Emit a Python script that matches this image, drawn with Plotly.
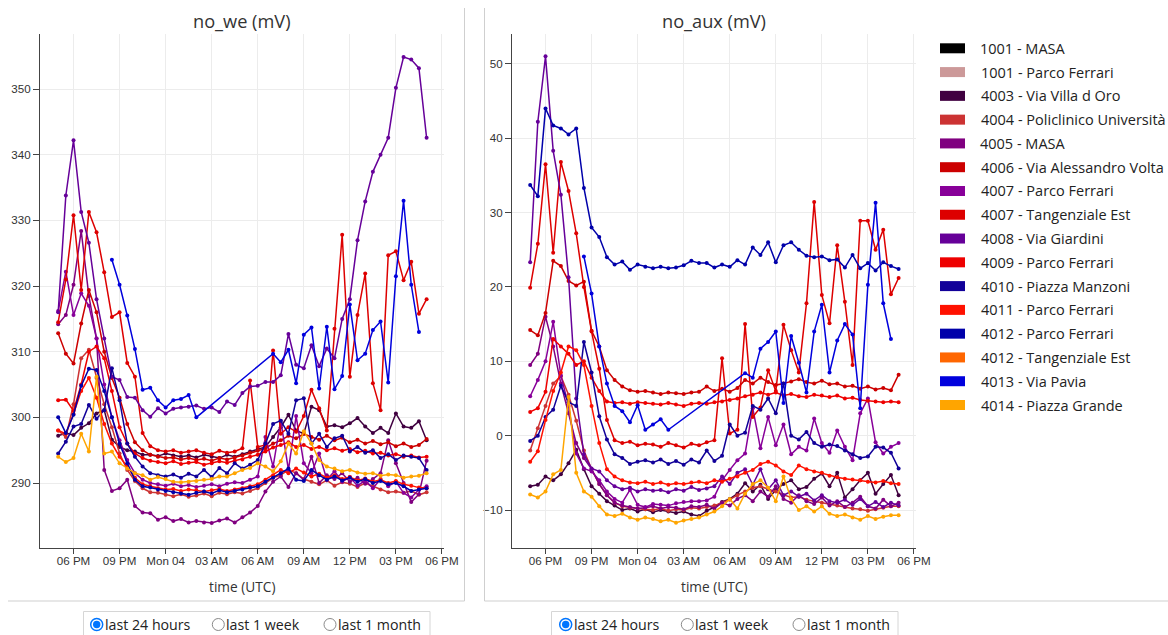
import plotly.graph_objects as go
from datetime import datetime, timedelta

# ---------------- data ----------------
start = datetime(2024, 3, 3, 17, 0)
times = [(start + timedelta(minutes=30 * i)).strftime("%Y-%m-%d %H:%M") for i in range(49)]

tick_times = ["2024-03-03 18:00", "2024-03-03 21:00", "2024-03-04 00:00", "2024-03-04 03:00",
              "2024-03-04 06:00", "2024-03-04 09:00", "2024-03-04 12:00", "2024-03-04 15:00",
              "2024-03-04 18:00"]
tick_labels = ["06 PM", "09 PM", "Mon 04", "03 AM", "06 AM", "09 AM", "12 PM", "03 PM", "06 PM"]
x_range = ["2024-03-03 15:49", "2024-03-04 18:08"]

names = ["1001 - MASA", "1001 - Parco Ferrari", "4003 - Via Villa d Oro", "4004 - Policlinico Università",
         "4005 - MASA", "4006 - Via Alessandro Volta", "4007 - Parco Ferrari", "4007 - Tangenziale Est",
         "4008 - Via Giardini", "4009 - Parco Ferrari", "4010 - Piazza Manzoni", "4011 - Parco Ferrari",
         "4012 - Parco Ferrari", "4012 - Tangenziale Est", "4013 - Via Pavia", "4014 - Piazza Grande"]
colors = ["#000000", "#CC9999", "#400040", "#CC3333", "#800080", "#CC0000", "#880099", "#DD0000",
          "#660099", "#EE0000", "#110099", "#FF1100", "#0000AA", "#FF6600", "#0000DD", "#FFA500"]

N = None

we_1001_masa = []
aux_1001_masa = []
we_1001_pf = []
aux_1001_pf = []
we_4012_te = []
aux_4012_te = []

we_4003 = [297.2, 297.6, 297.3, 298.4, 299.1, 300.6, 301.1, 296.6, 295.5, 295.0,
           294.8, 294.3, 294.3, 294.1, 294.5, 294.2, 294.0, 294.2, 293.9, 294.3,
           294.0, 293.8, 294.3, 294.0, 294.4, 294.8, 295.2, 295.5, 297.0, 298.5,
           300.4, 298.0, 297.5, 301.6, 301.1, 298.6, 298.8, 298.5, 299.1, 299.9,
           298.6, 297.6, 298.4, 297.6, 300.6, 298.6, 298.4, 299.4, 296.5]
aux_4003 = [-6.8, -6.6, -5.5, -6.0, -5.2, -3.7, -1.9, -4.5, -6.8, -7.8,
            -8.8, -9.4, -10.0, -9.8, -10.2, -9.9, -10.3, -10.0, -10.2, -10.4,
            -10.2, -10.6, -10.8, -10.1, -9.6, -8.9, -8.5, -7.8, -6.4, -7.5,
            -6.6, -8.5, -7.3, -6.5, -6.0, -7.2, -6.9, -5.8, -5.1, -6.8,
            -5.0, -8.3, -7.2, -6.0, -5.0, -7.8, -6.5, -5.3, -8.0]

we_4004 = [298.0, 297.0, 302.0, 309.0, 310.3, 306.0, 302.0, 298.5, 294.5, 292.0,
           290.3, 289.2, 288.6, 288.5, 288.2, 288.0, 288.3, 287.9, 288.1, 288.4,
           288.0, 288.5, 288.3, 288.6, 288.4, 288.8, 289.2, 290.0, 290.8, 291.2,
           292.0, 291.5, 290.6, 290.2, 289.8, 290.4, 289.6, 290.1, 289.9, 289.4,
           290.0, 289.5, 289.0, 288.6, 288.7, 288.5, 288.8, 288.2, 288.6]
aux_4004 = [-2.0, 1.0, 4.0, 7.0, 8.0, 5.5, 2.0, -2.0, -4.5, -6.5,
            -8.0, -9.0, -9.5, -9.7, -9.8, -9.9, -10.0, -9.8, -10.1, -9.9,
            -10.0, -9.7, -9.8, -9.6, -9.4, -9.0, -8.6, -8.0, -7.5, -7.0,
            -6.8, -7.2, -7.5, -8.0, -8.3, -8.2, -8.6, -8.8, -9.0, -9.2,
            -9.4, -9.6, -9.8, -9.9, -10.1, -9.9, -9.7, -9.5, -9.5]

we_4005 = [314.2, 315.6, 320.2, 328.4, 318.5, 312.0, 292.0, 288.8, 289.2, 290.5,
           286.5, 285.5, 285.4, 284.4, 284.8, 284.2, 284.5, 284.0, 284.2, 284.0,
           283.9, 284.3, 284.6, 284.0, 284.8, 285.5, 286.5, 288.7, 290.2, 291.0,
           289.4, 291.5, 290.5, 294.0, 290.0, 291.2, 290.6, 291.5, 290.2, 290.8,
           289.9, 290.6, 291.5, 296.5, 293.0, 290.0, 287.1, 288.3, 293.4]
aux_4005 = [9.5, 11.0, 16.0, 12.0, 7.0, 3.0, -1.0, -3.0, -4.5, -6.5,
            -8.0, -9.0, -9.4, -9.6, -9.8, -9.7, -9.5, -9.8, -9.6, -9.7,
            -9.9, -9.5, -9.6, -9.3, -9.8, -9.0, -9.4, -8.5, -8.0, -8.8,
            -7.5, -8.2, -6.8, -8.5, -9.0, -8.0, -8.8, -9.2, -8.3, -9.4,
            -8.8, -9.6, -9.0, -8.2, -9.5, -9.8, -8.6, -9.5, -9.0]

we_4006 = [312.8, 309.7, 308.2, 314.3, 319.4, 316.0, 310.0, 306.0, 303.0, 299.0,
           296.2, 295.0, 294.3, 294.0, 293.8, 293.9, 293.6, 293.8, 293.5, 293.7,
           293.4, 293.8, 293.6, 293.9, 294.2, 294.6, 294.9, 295.3, 296.0, 296.5,
           297.2, 296.8, 297.5, 297.0, 296.6, 297.2, 296.5, 296.9, 296.2, 296.6,
           296.0, 296.4, 295.9, 296.2, 295.6, 296.0, 295.5, 295.8, 296.7]
aux_4006 = [14.2, 13.5, 16.5, 23.5, 22.8, 20.8, 20.2, 20.7, 14.1, 12.0,
            8.8, 7.5, 6.6, 6.1, 5.9, 6.0, 5.8, 5.6, 5.8, 5.7,
            5.6, 5.8, 5.9, 6.6, 6.0, 6.3, 5.9, 6.4, 7.5, 7.0,
            7.8, 7.2, 6.8, 7.0, 7.3, 7.6, 7.2, 7.0, 7.4, 6.9,
            7.0, 6.6, 6.7, 6.3, 6.6, 6.2, 6.4, 6.1, 8.2]

we_4007_pf = [316.2, 322.2, 315.6, 318.9, 317.0, 312.0, 305.0, 300.0, 296.5, 293.5,
              291.5, 290.5, 290.0, 289.8, 289.6, 289.9, 289.5, 289.7, 289.4, 289.6,
              289.8, 289.5, 289.9, 290.1, 290.0, 290.5, 291.0, 297.0, 292.5, 299.5,
              292.0, 300.2, 293.0, 291.5, 294.5, 290.5, 291.8, 290.2, 290.9, 289.6,
              290.4, 289.2, 290.6, 289.5, 290.2, 288.5, 287.8, 289.0, 289.5]
aux_4007_pf = [5.3, 7.5, 10.0, 15.3, 8.1, 4.0, -2.4, -4.4, -4.8, -6.0,
               -7.5, -8.5, -9.0, -7.3, -9.3, -9.6, -9.2, -9.3, -9.4, -9.1,
               -8.9, -8.8, -8.8, -8.7, -8.2, -6.0, -4.6, -3.3, -2.4, 3.7,
               -1.7, 2.5, -1.3, 1.5, -2.5, -1.5, -2.0, 2.3, -1.0, -2.3,
               0.7, -1.5, -3.3, 3.0, 5.0, -0.9, -2.4, -1.5, -1.0]

we_4007_te = [314.5, 321.0, 330.8, 319.4, 331.3, 328.2, 322.1, 315.3, 316.0, 308.3,
              306.2, 297.6, 295.6, 295.0, 294.8, 295.0, 294.6, 294.8, 295.0, 294.6,
              294.4, 294.9, 294.6, 294.8, 295.3, 305.6, 295.5, 295.8, 310.2, 297.5,
              298.5, 297.8, 300.2, 304.2, 301.4, 298.0, 313.5, 327.8, 306.2, 315.6,
              321.9, 305.2, 301.1, 324.7, 325.3, 320.9, 323.7, 315.8, 318.0]
aux_4007_te = [19.9, 25.8, 36.5, 24.6, 36.8, 32.9, 27.2, 20.0, 14.0, 9.0,
               2.1, -0.6, -1.0, -0.8, -1.3, -1.1, -1.2, -1.5, -1.0, -1.3,
               -1.6, -1.1, -1.3, -0.9, -0.6, 10.4, 0.3, 0.8, 15.0, 2.5,
               3.8, 8.8, 6.0, 14.9, 11.5, 8.5, 17.8, 31.4, 18.9, 15.1,
               25.6, 18.0, 9.5, 28.9, 28.9, 25.0, 27.7, 19.0, 21.2]

we_4008 = [316.0, 333.8, 342.2, 331.3, 326.6, 318.0, 312.0, 306.2, 305.7, 303.1,
           303.0, 301.1, 300.1, 301.4, 300.6, 301.3, 301.5, 301.6, 301.8, 301.3,
           301.5, 300.8, 302.4, 301.9, 303.7, 304.7, 304.8, 305.4, 305.4, 306.4,
           312.7, 308.0, 307.5, 311.0, 307.8, 310.5, 309.0, 315.0, 318.0, 327.0,
           332.9, 337.4, 340.0, 342.6, 350.2, 354.9, 354.5, 353.2, 342.6]
aux_4008 = [23.3, 42.2, 51.0, 38.3, 32.4, 21.3, 5.0, -2.5, -4.4, -4.8,
            -6.0, -6.8, -7.2, -7.0, -7.5, -7.2, -7.4, -7.3, -7.6, -7.2,
            -7.4, -6.9, -7.3, -7.1, -6.8, -5.5, -6.5, -5.0, -4.5, -6.6,
            -4.5, -7.2, -6.0, -8.0, -7.5, -8.2, -7.8, -8.7, -8.0, -8.8,
            -9.0, -8.6, -9.3, -8.5, -9.5, -8.9, -9.6, -9.0, -9.4]

we_4009 = [302.6, 302.7, 301.0, 305.0, 310.0, 310.8, 309.0, 304.0, 298.5, 296.0,
           294.5, 293.8, 293.4, 293.2, 293.0, 293.3, 292.9, 293.1, 293.2, 292.8,
           293.0, 293.3, 293.1, 293.4, 293.6, 294.0, 294.3, 294.8, 295.4, 295.8,
           296.2, 295.5, 295.8, 295.2, 295.5, 295.0, 295.3, 294.9, 295.2, 294.7,
           294.9, 294.5, 294.6, 294.2, 294.4, 294.0, 294.2, 293.9, 294.0]
aux_4009 = [3.2, 3.7, 5.9, 13.0, 12.0, 11.0, 9.5, 10.0, 7.8, 6.0,
            4.6, 4.4, 4.5, 4.3, 4.5, 4.4, 4.3, 4.2, 4.4, 4.2,
            4.0, 4.3, 4.4, 4.3, 4.5, 4.6, 4.8, 5.0, 5.3, 5.5,
            5.8, 5.5, 5.8, 5.4, 5.6, 5.3, 5.2, 5.5, 5.4, 5.2,
            5.4, 5.0, 5.1, 4.8, 4.7, 4.6, 4.5, 4.6, 4.5]

we_4010 = [294.5, 296.3, 298.6, 299.0, 301.9, 299.8, 301.1, 307.5, 302.6, 296.0,
           294.0, 292.5, 291.5, 291.2, 291.0, 291.3, 290.8, 291.4, 291.0, 292.0,
           290.9, 292.3, 291.5, 293.0, 292.2, 292.8, 293.5, 296.0, 299.0, 299.5,
           297.5, 302.6, 302.9, 296.0, 297.5, 295.5, 296.8, 297.2, 294.8, 295.5,
           294.6, 295.0, 293.8, 294.4, 293.5, 294.2, 294.0, 293.8, 292.0]
aux_4010 = [-0.7, 0.0, 2.5, 3.5, 6.7, 4.5, 4.0, 12.6, 8.5, 2.6,
            -0.5, -2.5, -3.0, -3.8, -3.5, -3.3, -3.6, -3.2, -3.8, -3.4,
            -3.9, -3.2, -3.6, -2.0, -3.4, -2.7, 1.5, 0.0, 0.4, 4.0,
            3.5, 5.0, 3.0, 7.0, 0.0, -0.5, 0.5, -1.0, -1.5, -1.2,
            -1.4, -2.0, -2.5, -3.0, -2.8, -1.5, -1.6, -2.3, -4.4]

we_4011 = [298.0, 297.5, 300.5, 304.0, 306.0, 303.0, 299.0, 296.0, 294.0, 292.5,
           290.8, 289.8, 289.5, 289.2, 289.0, 289.1, 288.8, 289.0, 288.9, 288.7,
           288.9, 289.1, 288.8, 289.0, 289.2, 289.5, 289.8, 290.5, 291.2, 292.0,
           291.5, 292.2, 291.6, 291.0, 291.4, 290.8, 291.2, 290.6, 290.9, 290.4,
           290.7, 290.2, 290.5, 290.0, 290.3, 289.8, 289.6, 289.3, 289.2]
aux_4011 = [-3.5, -2.1, 2.1, 6.0, 8.5, 12.0, 11.5, 9.5, 4.0, -1.0,
            -4.5, -5.5, -6.0, -6.3, -6.4, -6.2, -6.5, -6.3, -6.6, -6.4,
            -6.5, -6.3, -6.2, -6.4, -6.0, -6.2, -5.8, -5.5, -5.0, -4.6,
            -3.8, -3.5, -4.0, -4.8, -5.3, -4.0, -4.5, -4.8, -5.0, -5.4,
            -5.6, -5.8, -5.9, -6.0, -6.2, -6.3, -6.1, -6.4, -6.5]

we_4012_pf = [300.0, 297.6, 300.4, 304.8, 307.4, 307.2, 304.0, 300.0, 296.0, 293.0,
              290.5, 289.5, 289.3, 289.0, 288.8, 288.6, 288.4, 288.2, 288.5, 288.7,
              288.4, 288.9, 288.6, 288.8, 289.0, 289.3, 289.5, 290.2, 290.8, 291.5,
              292.2, 290.5, 290.3, 292.0, 291.2, 290.5, 291.0, 290.4, 290.8, 290.2,
              290.6, 290.0, 290.3, 289.8, 290.0, 289.5, 288.8, 289.0, 289.2]
aux_4012_pf = [33.7, 32.2, 44.0, 41.7, 41.3, 40.5, 41.3, 33.3, 28.0, 26.7,
               24.0, 23.0, 23.4, 22.3, 23.0, 22.7, 22.5, 22.7, 22.5, 22.6,
               22.9, 23.5, 23.2, 23.2, 22.6, 23.0, 22.7, 23.6, 23.0, 25.3,
               24.3, 26.0, 23.3, 25.6, 26.0, 25.0, 24.2, 24.0, 24.1, 23.6,
               23.7, 22.6, 24.3, 22.5, 23.2, 22.2, 23.3, 22.8, 22.4]

we_4013 = [N, N, N, N, N, N, N, 324.0, 320.2, 315.5,
           310.4, 304.2, 304.5, 302.6, 301.5, 302.6, 302.8, 303.4, 300.0, N,
           N, N, N, N, N, N, N, N, 309.7, 308.4,
           310.3, 305.2, 312.6, 313.7, 304.4, 313.8, 304.3, 306.3, 317.2, 308.7,
           309.7, 313.3, 314.6, 305.3, 321.5, 333.0, 320.2, 313.0, N]
aux_4013 = [N, N, N, N, N, N, N, 24.1, 19.1, 12.0,
            7.0, 4.0, 3.3, 1.8, 4.1, 0.8, 1.5, 2.2, 0.8, N,
            N, N, N, N, N, N, N, N, 8.4, 7.8,
            11.7, 12.6, 14.0, 4.4, 13.4, 9.8, 5.8, 14.0, 17.6, 8.5,
            12.8, 15.0, 13.6, 3.7, 20.3, 31.3, 17.8, 13.0, N]

we_4014 = [294.0, 293.2, 293.8, 297.5, 294.8, 306.2, 294.5, 294.8, 293.0, 292.2,
           291.5, 291.2, 290.5, 290.9, 290.6, 290.2, 290.1, 290.2, 290.3, 290.5,
           290.6, 291.0, 291.0, 291.5, 292.0, 292.3, 293.0, 292.5, 291.8, 293.3,
           296.0, 294.5, 297.9, 296.0, 293.5, 292.5, 292.2, 291.8, 292.0, 291.6,
           291.4, 291.5, 291.1, 291.3, 291.2, 290.8, 291.0, 291.1, 291.5]
aux_4014 = [-7.9, -8.3, -7.5, -5.2, -4.6, 5.2, -5.0, -7.5, -8.2, -9.5,
            -10.6, -10.8, -10.5, -11.0, -11.3, -11.0, -11.2, -11.5, -11.3, -11.7,
            -11.4, -11.2, -11.0, -10.6, -10.2, -9.5, -8.5, -9.8, -7.8, -6.5,
            -6.0, -7.0, -8.8, -5.5, -8.5, -10.0, -9.5, -10.2, -9.5, -10.5,
            -10.8, -10.6, -11.0, -11.3, -10.8, -11.2, -10.9, -10.7, -10.7]

we_series = [we_1001_masa, we_1001_pf, we_4003, we_4004, we_4005, we_4006, we_4007_pf, we_4007_te,
             we_4008, we_4009, we_4010, we_4011, we_4012_pf, we_4012_te, we_4013, we_4014]
aux_series = [aux_1001_masa, aux_1001_pf, aux_4003, aux_4004, aux_4005, aux_4006, aux_4007_pf, aux_4007_te,
              aux_4008, aux_4009, aux_4010, aux_4011, aux_4012_pf, aux_4012_te, aux_4013, aux_4014]

for s in we_series + aux_series:
    assert len(s) in (0, 49), len(s)

# ---------------- figure ----------------
REF_W, H = 1168, 635
W = 1183   # layout width; the page capture is fitted back to 1168 px wide


def px(x):
    return x / REF_W


def py(y):
    return 1 - y / H


fig = go.Figure()
for name, col, we, aux in zip(names, colors, we_series, aux_series):
    for vals, xa, ya in ((we, "x", "y"), (aux, "x2", "y2")):
        if not vals:
            continue
        fig.add_trace(go.Scatter(
            x=times, y=vals, mode="lines+markers", name=name,
            line=dict(color=col, width=1.5), marker=dict(color=col, size=4),
            connectgaps=True, showlegend=False, xaxis=xa, yaxis=ya, hoverinfo="skip"))

tick_font = dict(family="Liberation Sans, Arial, sans-serif", size=11.6, color="#333333")
text_font = "Open Sans, Noto Sans, sans-serif"

xcommon = dict(type="date", range=x_range, tickmode="array", tickvals=tick_times, ticktext=tick_labels,
               ticks="outside", ticklen=5, tickcolor="#444444", showline=True, linecolor="#444444",
               linewidth=1, showgrid=True, gridcolor="#ececec", gridwidth=1, zeroline=False,
               tickfont=tick_font, fixedrange=True, ticklabelstandoff=-3)
ycommon = dict(tickmode="linear", tick0=0, dtick=10, ticks="outside", ticklen=6, tickcolor="#444444",
               showline=True, linecolor="#444444", linewidth=1, showgrid=True, gridcolor="#ececec",
               gridwidth=1, zeroline=False, tickfont=tick_font, fixedrange=True)

ydom = [py(548), py(34)]
fig.update_layout(
    width=W, height=H, autosize=False, margin=dict(l=0, r=0, t=0, b=0, pad=0),
    paper_bgcolor="white", plot_bgcolor="white", showlegend=False,
    xaxis=dict(domain=[px(40), px(444)], anchor="y", **xcommon),
    yaxis=dict(domain=ydom, anchor="x", range=[280.1, 358.4], **ycommon),
    xaxis2=dict(domain=[px(512), px(916)], anchor="y2", **xcommon),
    yaxis2=dict(domain=ydom, anchor="x2", range=[-15.1, 54.0], **ycommon),
)

annotations = []
shapes = []

# panel titles and axis titles
for cx, title in ((242, "no_we (mV)"), (714, "no_aux (mV)")):
    annotations.append(dict(x=px(cx), y=py(21), xref="paper", yref="paper", text=title, showarrow=False,
                            xanchor="center", yanchor="middle",
                            font=dict(family=text_font, size=18.2, color="#333333")))
    annotations.append(dict(x=px(cx), y=py(586), xref="paper", yref="paper", text="time (UTC)",
                            showarrow=False, xanchor="center", yanchor="middle",
                            font=dict(family=text_font, size=13.7, color="#333333")))

# legend (manual, square swatches)
for i, (name, col) in enumerate(zip(names, colors)):
    yc = 48.3 + 23.78 * i
    shapes.append(dict(type="rect", xref="paper", yref="paper", x0=px(940), x1=px(965),
                       y0=py(yc - 5), y1=py(yc + 5), fillcolor=col, line=dict(width=0)))
    annotations.append(dict(x=px(978.5), y=py(yc), xref="paper", yref="paper", text=name, showarrow=False,
                            xanchor="left", yanchor="middle",
                            font=dict(family=text_font, size=14.5, color="#222222")))

# panel frames
frame_col = "#cfcfcf"
shapes += [
    dict(type="line", xref="paper", yref="paper", x0=px(464.5), x1=px(464.5), y0=py(8), y1=py(601),
         line=dict(color=frame_col, width=1)),
    dict(type="line", xref="paper", yref="paper", x0=px(8), x1=px(464.5), y0=py(601), y1=py(601),
         line=dict(color=frame_col, width=1)),
    dict(type="line", xref="paper", yref="paper", x0=px(484.5), x1=px(484.5), y0=py(8), y1=py(601),
         line=dict(color=frame_col, width=1)),
    dict(type="line", xref="paper", yref="paper", x0=px(484.5), x1=1.0, y0=py(601), y1=py(601),
         line=dict(color=frame_col, width=1)),
]

# radio button groups
radio_labels = ["last 24 hours", "last 1 week", "last 1 month"]
for bx0, bx1, rxs in ((83.5, 430, (96.7, 218.3, 330.0)), (551.5, 898, (565.7, 687.3, 799.0))):
    shapes.append(dict(type="rect", xref="paper", yref="paper", x0=px(bx0), x1=px(bx1),
                       y0=py(645), y1=py(611.5), line=dict(color="#d6d6d6", width=1),
                       fillcolor="rgba(0,0,0,0)"))
    for k, (rx, lab) in enumerate(zip(rxs, radio_labels)):
        ry = 624.5
        if k == 0:
            shapes.append(dict(type="circle", xref="paper", yref="paper", x0=px(rx - 6), x1=px(rx + 6),
                               y0=py(ry + 6), y1=py(ry - 6), fillcolor="white",
                               line=dict(color="#0075ff", width=1.5)))
            shapes.append(dict(type="circle", xref="paper", yref="paper", x0=px(rx - 3.7), x1=px(rx + 3.7),
                               y0=py(ry + 3.7), y1=py(ry - 3.7), fillcolor="#0075ff",
                               line=dict(width=0)))
        else:
            shapes.append(dict(type="circle", xref="paper", yref="paper", x0=px(rx - 6), x1=px(rx + 6),
                               y0=py(ry + 6), y1=py(ry - 6), fillcolor="white",
                               line=dict(color="#8a8a8a", width=1)))
        annotations.append(dict(x=px(rx + 6), y=py(ry), xref="paper", yref="paper", text=lab,
                                showarrow=False, xanchor="left", yanchor="middle",
                                font=dict(family=text_font, size=14.2, color="#222222")))

fig.update_layout(annotations=annotations, shapes=shapes)
fig.write_html("out.html", config={"responsive": False})
